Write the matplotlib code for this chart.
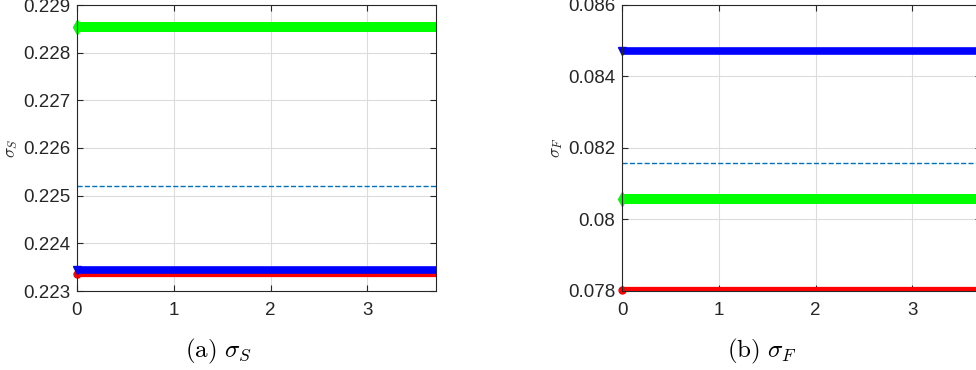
import matplotlib.pyplot as plt
from matplotlib.ticker import FuncFormatter

plt.rcParams['font.family'] = ['Liberation Sans', 'DejaVu Sans']
plt.rcParams['mathtext.fontset'] = 'cm'

# iterations
iters = [0, 1, 2, 3, 4]

# (a) sigma_S
sS_green = [0.22854] * 5
sS_blue = [0.22344] * 5
sS_red = [0.22335] * 5
sS_mean = [0.22521] * 5

# (b) sigma_F
sF_blue = [0.08471] * 5
sF_green = [0.08056] * 5
sF_red = [0.07804] * 5
sF_mean = [0.08159] * 5

fig = plt.figure(figsize=(9.76, 3.70), dpi=100)
W, H = 976, 370


def add_ax(left_px, right_px):
    return fig.add_axes([left_px / W, 1 - 291 / H, (right_px - left_px) / W, 286 / H])


def style(ax, ylim, yticks, ylab):
    ax.set_xlim(0, 3.71)
    ax.set_ylim(*ylim)
    ax.set_xticks([0, 1, 2, 3])
    ax.set_yticks(yticks)
    ax.yaxis.set_major_formatter(FuncFormatter(lambda v, p: f"{v:g}"))
    ax.grid(True, color='#dcdcdc', linewidth=0.8)
    ax.set_axisbelow(True)
    ax.tick_params(direction='in', top=True, right=True, length=4,
                   labelsize=13.5, colors='#262626', width=0.8)
    ax.tick_params(axis='x', pad=8)
    ax.tick_params(axis='y', pad=5)
    for s in ax.spines.values():
        s.set_color('#262626')
        s.set_linewidth(0.8)
    ax.set_ylabel(ylab, fontsize=12.5, color='#262626')


def draw(ax, x, y, color, lw, marker, ms):
    ax.plot(x, y, '-', color=color, lw=lw, solid_capstyle='butt')
    ax.plot(x[:1], y[:1], marker=marker, ms=ms, color=color, ls='none',
            clip_on=False)


ax1 = add_ax(77, 436)
ax1.plot(iters, sS_mean, '--', color='#0072BD', lw=1.0)
draw(ax1, iters, sS_red, 'red', 4.5, 'o', 5)
draw(ax1, iters, sS_blue, 'blue', 5.5, 'v', 6)
draw(ax1, iters, sS_green, '#00ff00', 7.2, 'd', 7.5)
style(ax1, (0.223, 0.229), [0.223, 0.224, 0.225, 0.226, 0.227, 0.228, 0.229], r'$\sigma_S$')
ax1.yaxis.set_label_coords(-0.158, 0.5)

ax2 = add_ax(622, 981)
ax2.plot(iters, sF_mean, '--', color='#0072BD', lw=1.0)
draw(ax2, iters, sF_red, 'red', 4.5, 'o', 5)
draw(ax2, iters, sF_blue, 'blue', 5.5, 'v', 6)
draw(ax2, iters, sF_green, '#00ff00', 7.2, 'd', 7.5)
style(ax2, (0.078, 0.086), [0.078, 0.08, 0.082, 0.084, 0.086], r'$\sigma_F$')
ax2.yaxis.set_label_coords(-0.158, 0.5)

fig.text(218 / W, 1 - 351 / H, r'$\mathrm{(a)}\ \sigma_S$', ha='center', va='center',
         fontsize=18)
fig.text(762 / W, 1 - 351 / H, r'$\mathrm{(b)}\ \sigma_F$', ha='center', va='center',
         fontsize=18)

fig.savefig('out.png', dpi=100)
